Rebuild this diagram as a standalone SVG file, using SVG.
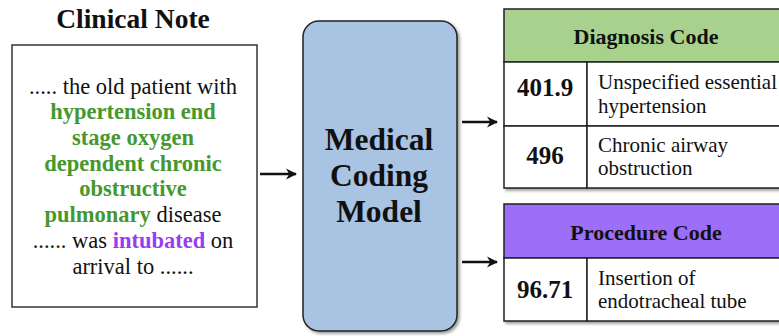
<svg xmlns="http://www.w3.org/2000/svg" width="779" height="336" viewBox="0 0 779 336">
<style>
text{font-family:"Liberation Serif","Times New Roman",serif;fill:#111}
.t{font-size:22.5px;text-anchor:middle}
.g{fill:#46982e;font-weight:bold}
.p{fill:#9a3cf2;font-weight:bold}
.b{font-weight:bold}
.cell{fill:#fff;stroke:#222;stroke-width:1.5}
.d{font-size:21px}
.code{font-size:25px;font-weight:bold;text-anchor:middle}
.hd{font-size:22px;font-weight:bold;text-anchor:middle}
.m{font-size:31.5px;font-weight:bold;text-anchor:middle}
.conn{stroke:#111;stroke-width:2.5;fill:none;marker-end:url(#ah)}
</style>
<defs>
<marker id="ah" viewBox="0 0 10 10" refX="9" refY="5" markerWidth="4.5" markerHeight="4.5" orient="auto" markerUnits="strokeWidth">
<path d="M0,0 L10,5 L0,10 L3,5 Z" fill="#111"/>
</marker>
<filter id="sh" x="-10%" y="-10%" width="130%" height="130%">
<feGaussianBlur in="SourceAlpha" stdDeviation="1.5"/>
<feOffset dx="2" dy="2"/>
<feComponentTransfer><feFuncA type="linear" slope="0.4"/></feComponentTransfer>
<feMerge><feMergeNode/><feMergeNode in="SourceGraphic"/></feMerge>
</filter>
</defs>
<rect width="779" height="336" fill="#fff"/>

<g id="clinical-note">
<text x="133" y="28" font-size="27.5" class="b" text-anchor="middle">Clinical Note</text>
<rect x="12" y="45" width="245" height="262" fill="#fff" stroke="#333" stroke-width="1.5"/>
<text class="t" x="133" y="94">..... the old patient with</text>
<text class="t g" x="133" y="119">hypertension end</text>
<text class="t g" x="133" y="145">stage oxygen</text>
<text class="t g" x="133" y="171">dependent chronic</text>
<text class="t g" x="133" y="196">obstructive</text>
<text class="t" x="133" y="222"><tspan class="g">pulmonary</tspan> disease</text>
<text class="t" x="133" y="248">...... was <tspan class="p">intubated</tspan> on</text>
<text class="t" x="133" y="274">arrival to ......</text>
</g>

<g id="model">
<rect x="303" y="21" width="154" height="310" rx="16" fill="#a9c4e3" stroke="#222" stroke-width="1.5" filter="url(#sh)"/>
<text class="m" x="379" y="150">Medical</text>
<text class="m" x="379" y="186">Coding</text>
<text class="m" x="379" y="222">Model</text>
</g>

<g id="diagnosis-code">
<g filter="url(#sh)">
<rect x="504" y="9" width="290" height="53" fill="#a9d18e" stroke="#222" stroke-width="1.5"/>
<rect class="cell" x="504" y="62" width="83" height="64"/>
<rect class="cell" x="587" y="62" width="207" height="64"/>
<rect class="cell" x="504" y="126" width="83" height="62"/>
<rect class="cell" x="587" y="126" width="207" height="62"/>
</g>
<text class="hd" x="646" y="44">Diagnosis Code</text>
<text class="code" x="545" y="96">401.9</text>
<text class="d" x="598" y="89">Unspecified essential</text>
<text class="d" x="598" y="113">hypertension</text>
<text class="code" x="545" y="164">496</text>
<text class="d" x="598" y="152">Chronic airway</text>
<text class="d" x="598" y="175">obstruction</text>
</g>

<g id="procedure-code">
<g filter="url(#sh)">
<rect x="504" y="204" width="290" height="54" fill="#9d6ef7" stroke="#222" stroke-width="1.5"/>
<rect class="cell" x="504" y="258" width="83" height="63"/>
<rect class="cell" x="587" y="258" width="207" height="63"/>
</g>
<text class="hd" x="646" y="240">Procedure Code</text>
<text class="code" x="545" y="298">96.71</text>
<text class="d" x="598" y="285">Insertion of</text>
<text class="d" x="598" y="308">endotracheal tube</text>
</g>

<g id="connectors">
<line class="conn" x1="260" y1="174" x2="296" y2="174"/>
<line class="conn" x1="462" y1="122" x2="497" y2="122"/>
<line class="conn" x1="462" y1="262" x2="497" y2="262"/>
</g>
</svg>
